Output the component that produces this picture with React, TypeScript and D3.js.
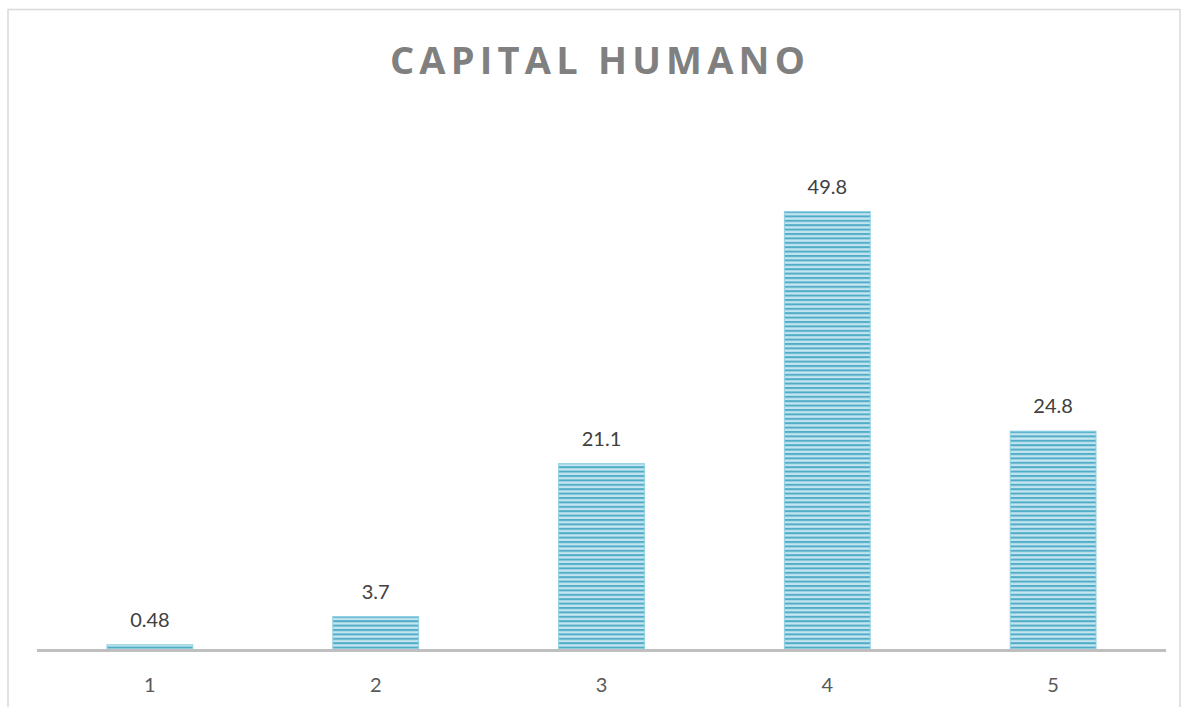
import React from "react";
import * as d3 from "d3";

const categories = ["1", "2", "3", "4", "5"];
const values = [0.48, 3.7, 21.1, 49.8, 24.8];
const valueLabels = ["0.48", "3.7", "21.1", "49.8", "24.8"];
const title = "CAPITAL HUMANO";

const W = 1182;
const H = 707;

export default function App() {
  const x = d3.scaleBand<string>().domain(categories).range([37, 1166]).paddingInner(0.62).paddingOuter(0.31);
  const y = d3.scaleLinear().domain([0, 60]).range([649, 122]);
  const font = "Lato, 'Open Sans', 'Noto Sans', sans-serif";

  return (
    <svg width={W} height={H} style={{ position: "absolute", left: 0, top: 0 }}>
      <defs>
        <pattern id="stripes" patternUnits="userSpaceOnUse" width={8} height={4.4} y={211}>
          <rect width={8} height={4.4} fill="#c4e5ef" />
          <rect width={8} height={2} fill="#4fadc8" />
        </pattern>
      </defs>
      <rect x={0} y={0} width={W} height={H} fill="#ffffff" />
      {/* chart area frame */}
      <rect x={8} y={9.5} width={1172} height={H} fill="none" stroke="#d9d9d9" strokeWidth={1.5} />
      <text
        x={600}
        y={74}
        textAnchor="middle"
        fontFamily="'Open Sans', Lato, sans-serif"
        fontWeight={700}
        fontSize={38}
        letterSpacing={5.2}
        fill="#808080"
      >
        {title}
      </text>
      {categories.map((c, i) => {
        const top = y(values[i]);
        return (
          <g key={c}>
            <rect
              x={x(c)}
              y={top}
              width={x.bandwidth()}
              height={y(0) - top}
              fill="url(#stripes)"
              stroke="#8fd0e2"
              strokeWidth={1}
            />
            <text
              x={(x(c) as number) + x.bandwidth() / 2}
              y={top - 18}
              textAnchor="middle"
              fontFamily={font}
              fontSize={20}
              fill="#404040"
            >
              {valueLabels[i]}
            </text>
            <text
              x={(x(c) as number) + x.bandwidth() / 2}
              y={692}
              textAnchor="middle"
              fontFamily={font}
              fontSize={20}
              fill="#595959"
            >
              {c}
            </text>
          </g>
        );
      })}
      <line x1={37} x2={1166} y1={y(0) + 1.5} y2={y(0) + 1.5} stroke="#bfbfbf" strokeWidth={3} />
    </svg>
  );
}
